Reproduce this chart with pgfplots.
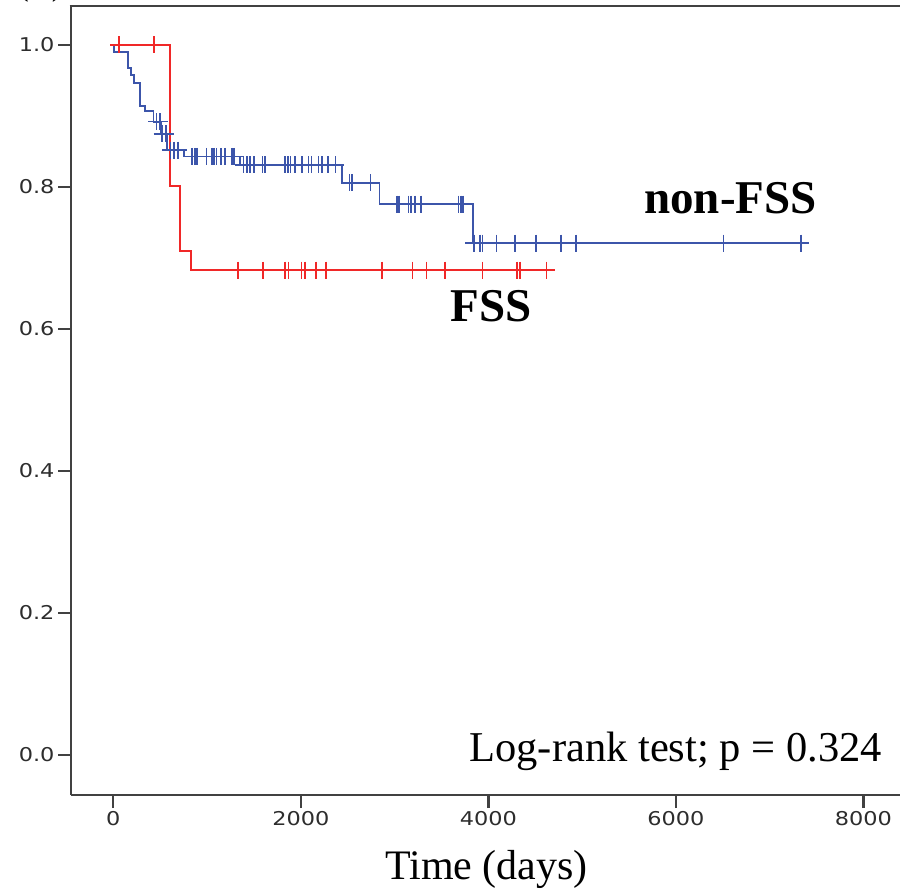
\documentclass[border=0pt]{standalone}
\usepackage{fontspec}
\setmainfont{Liberation Serif}
\newfontfamily\tickfont[FakeStretch=1.18]{DejaVu Sans}
\usepackage{pgfplots}
\pgfplotsset{compat=1.18}
\definecolor{kmred}{RGB}{240,40,40}
\definecolor{kmblue}{RGB}{60,85,170}
\definecolor{axgray}{RGB}{65,65,65}
\definecolor{tkgray}{RGB}{45,45,45}
\begin{document}
\begin{tikzpicture}
\begin{axis}[
  scale only axis, width=829bp, height=789bp,
  xmin=-451, xmax=8391, ymin=-0.0563, ymax=1.0549,
  axis lines*=left,
  axis line style={line width=2.8bp, color=axgray},
  xtick={0,2000,4000,6000,8000},
  ytick={0,0.2,0.4,0.6,0.8,1.0},
  tick align=outside,
  major tick length=13bp,
  tick style={line width=2.4bp, color=axgray},
  tick label style={font=\tickfont\fontsize{19bp}{21bp}\selectfont, text=tkgray},
  /pgf/number format/assume math mode=true,
  scaled x ticks=false,
  xticklabel style={/pgf/number format/1000 sep={}},
  yticklabel style={/pgf/number format/fixed, /pgf/number format/fixed zerofill, /pgf/number format/precision=1},
  clip=false,
]
\coordinate (sw) at (rel axis cs:0,0);
\coordinate (ne) at (rel axis cs:1,1);
\draw[line width=2.8bp, axgray] ([xshift=-1.4bp]rel axis cs:0,1) -- (rel axis cs:1,1);

% non-FSS (blue) survival steps
\addplot[const plot, kmblue, line width=1.8bp, mark=none] coordinates {
(0,1.0) (5,0.990) (153,0.968) (185,0.958) (224,0.947) (285,0.914) (338,0.907)
(430,0.892) (505,0.875) (575,0.852) (757,0.843) (1351,0.831) (2440,0.806)
(2840,0.776) (3833,0.721) (7333,0.721)};
% non-FSS censored
\addplot[only marks, kmblue, mark=+, mark size=8.5bp, mark options={line width=1.6bp}] coordinates {
(462,0.892) (498,0.892) (520,0.875) (560,0.875) (610,0.852) (650,0.852) (693,0.852)
(840,0.843) (870,0.843) (890,0.843) (995,0.843) (1050,0.843) (1075,0.843) (1100,0.843)
(1150,0.843) (1190,0.843) (1265,0.843) (1290,0.843)
(1387,0.831) (1423,0.831) (1458,0.831) (1500,0.831) (1590,0.831) (1615,0.831)
(1830,0.831) (1865,0.831) (1890,0.831) (1940,0.831) (2010,0.831) (2080,0.831)
(2116,0.831) (2190,0.831) (2225,0.831) (2290,0.831) (2370,0.831)
(2520,0.806) (2545,0.806) (2745,0.806)
(3023,0.776) (3047,0.776) (3147,0.776) (3176,0.776) (3218,0.776) (3279,0.776)
(3680,0.776) (3709,0.776) (3733,0.776)
(3847,0.721) (3911,0.721) (3940,0.721) (4089,0.721) (4285,0.721) (4509,0.721)
(4775,0.721) (4935,0.721) (6507,0.721) (7333,0.721)};

% FSS (red) survival steps
\addplot[const plot, kmred, line width=1.8bp, mark=none] coordinates {
(0,1.0) (605,0.801) (712,0.710) (829,0.683) (4620,0.683)};
% FSS censored
\addplot[only marks, kmred, mark=+, mark size=8.5bp, mark options={line width=1.6bp}] coordinates {
(60,1.0) (437,1.0)
(1333,0.683) (1600,0.683) (1831,0.683) (1867,0.683) (2009,0.683) (2044,0.683)
(2162,0.683) (2269,0.683) (2863,0.683) (3193,0.683) (3342,0.683) (3540,0.683)
(3940,0.683) (4309,0.683) (4338,0.683) (4620,0.683)};

\node[anchor=base, inner sep=0pt, font=\fontsize{47bp}{50bp}\selectfont\bfseries] at (axis cs:6583,0.762) {non-FSS};
\node[anchor=base, inner sep=0pt, font=\fontsize{47bp}{50bp}\selectfont\bfseries] at (axis cs:4027,0.611) {FSS};
\node[anchor=base east, inner sep=0pt, font=\fontsize{42.5bp}{46bp}\selectfont] at (axis cs:8199,-0.0094) {Log-rank test; p = 0.324};
\node[anchor=base, inner sep=0pt, font=\fontsize{42bp}{46bp}\selectfont] at (axis cs:3981,-0.176) {Time (days)};
\node[anchor=base, inner sep=0pt, font=\fontsize{32bp}{36bp}\selectfont] at (axis cs:-777,1.069) {(A)};
\end{axis}
\pgfresetboundingbox
\path[use as bounding box] ([xshift=-71bp,yshift=-96bp]sw) rectangle ([yshift=6bp]ne);
\end{tikzpicture}
\end{document}
